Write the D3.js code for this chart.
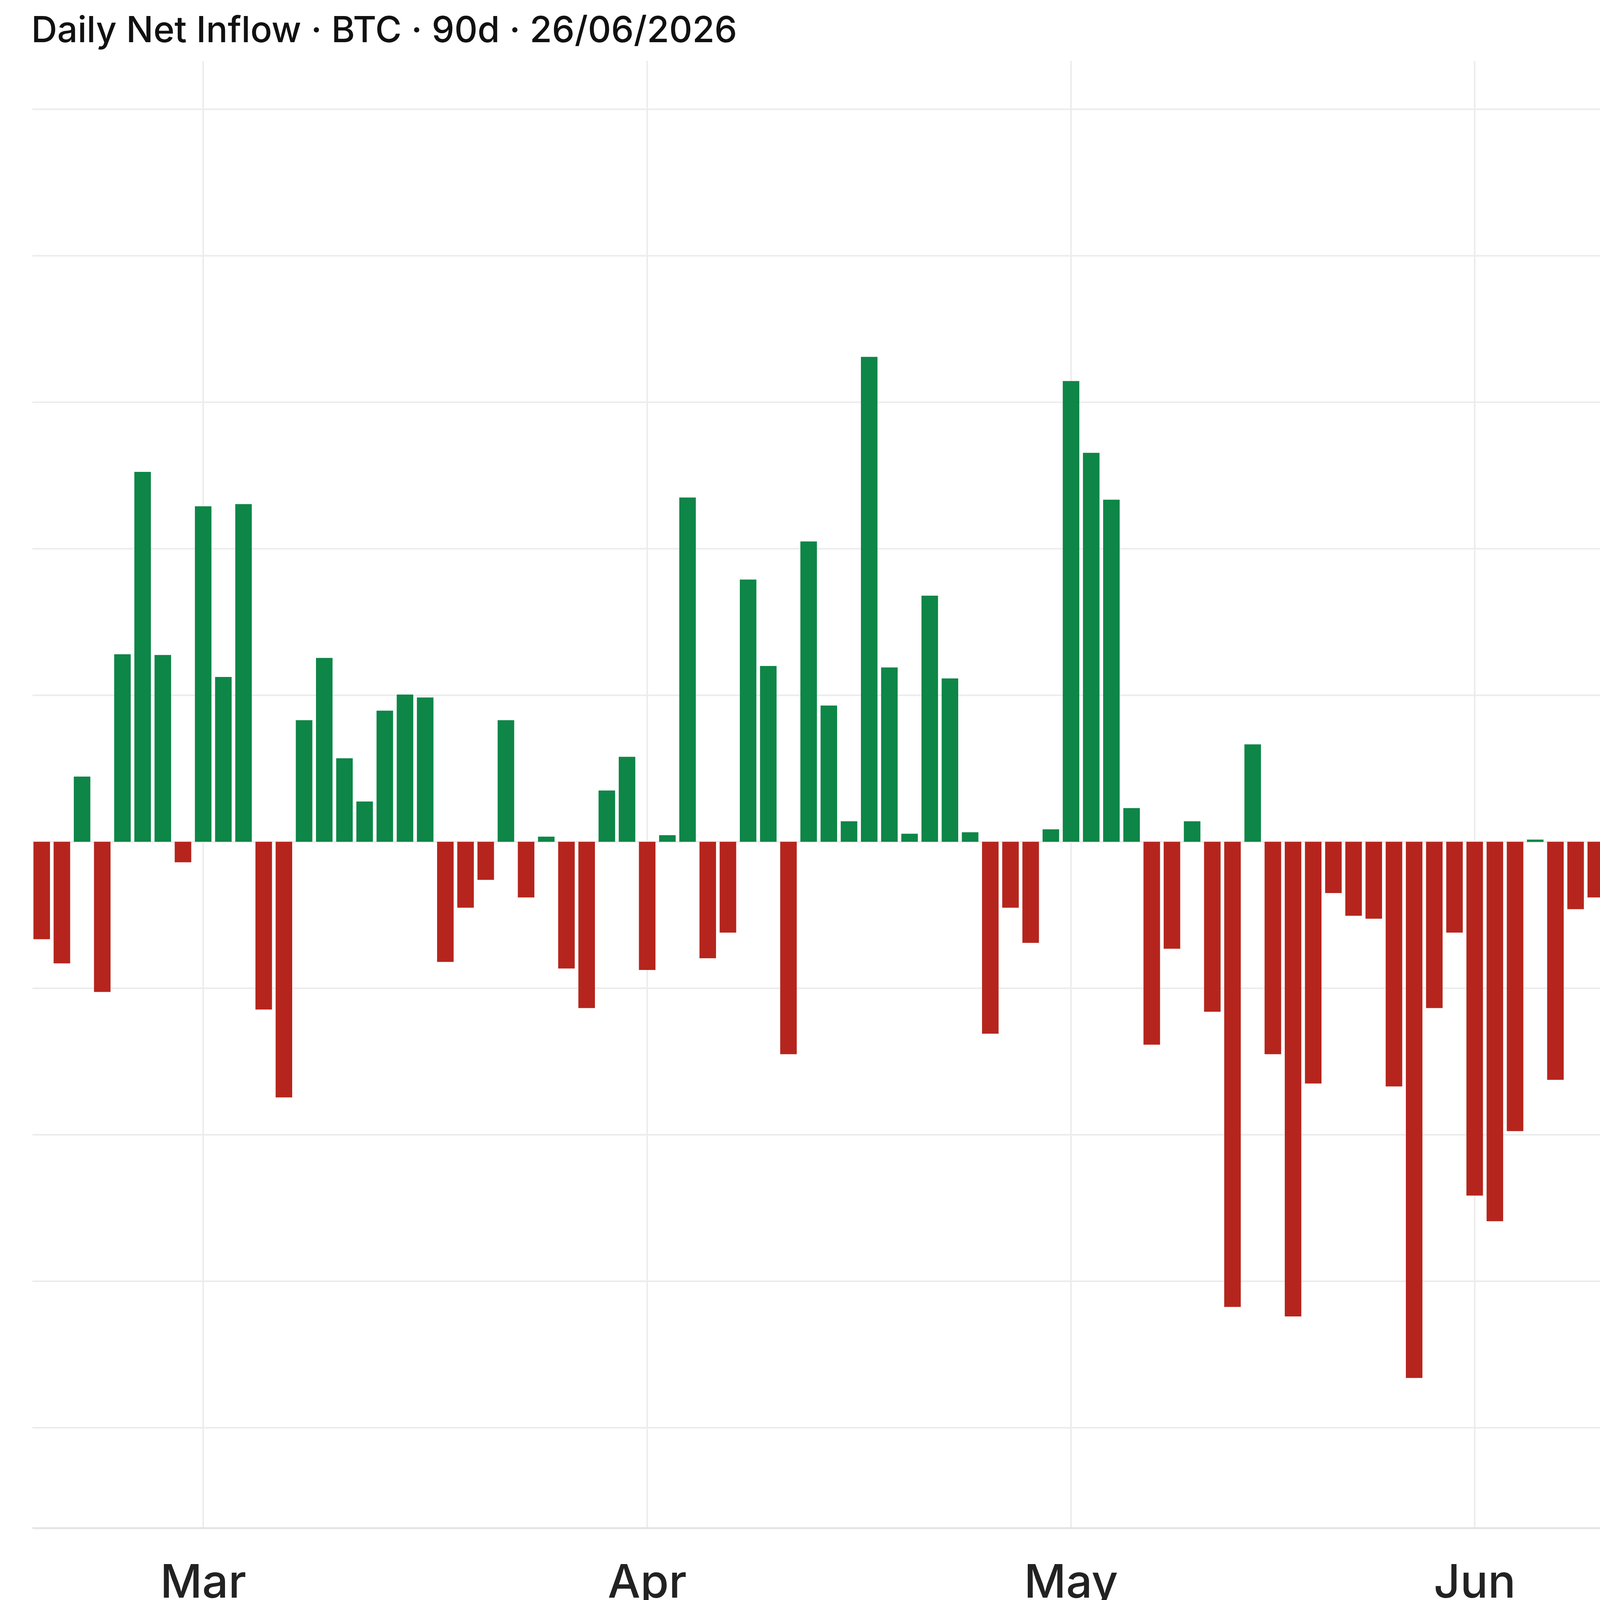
<!DOCTYPE html>
<html>
<head>
<meta charset="utf-8">
<script src="https://cdn.jsdelivr.net/npm/d3@7"></script>
<style>
  html, body { margin: 0; padding: 0; background: #ffffff; }
  svg { display: block; font-family: Inter, "Noto Sans", sans-serif; }
</style>
</head>
<body>
<svg id="chart" width="5368" height="4160"></svg>
<script>
// daily net inflow, $M, one per trading day (Feb 18 .. Jun 26 2026)
var flows = [
  -133, -166, 89, -205, 256, 505, 255, -28, 458, 225,
  461, -229, -349, 166, 251, 114, 55, 179, 201, 197,
  -164, -90, -52, 166, -76, 7, -173, -227, 70, 116,
  -175, 9, 470, -159, -124, 358, 240, -290, 410, 186,
  28, 662, 238, 11, 336, 223, 13, -262, -90, -138,
  17, 629, 531, 467, 46, -277, -146, 28, -232, -635,
  133, -290, -648, -330, -70, -101, -105, -334, -732, -227,
  -124, -483, -518, -395, 3, -325, -92, -76, -214, -18,
  85, -65, 9, -81, -90, -68, -113, -469, -696, -443
];
var holidays = ["2026-04-03", "2026-05-25", "2026-06-19"];
var yTicks = [1000, 800, 600, 400, 200, 0, -200, -400, -600, -800];
var xTickDates = ["2026-03-02", "2026-04-01", "2026-05-01", "2026-06-01", "2026-06-24"];
var xTickLabels = ["Mar", "Apr", "May", "Jun", "24"];

// build trading-day list
var fmt = d3.timeFormat("%Y-%m-%d");
var days = [];
var d = new Date(2026, 1, 18);
while (days.length < flows.length) {
  var k = fmt(d);
  if (d.getDay() != 0 && d.getDay() != 6 && holidays.indexOf(k) < 0) days.push(k);
  d = d3.timeDay.offset(d, 1);
}

var svg = d3.select("#chart");
var plotL = 83, plotR = 4739, plotT = 156, plotB = 3912;

var x = d3.scaleBand().domain(days).range([plotL, 4729]).paddingInner(0.18).paddingOuter(0.05);
var y = d3.scaleLinear().domain([-937, 1066]).range([plotB, plotT]);

// grid
svg.append("g").selectAll("line").data(yTicks).join("line")
  .attr("x1", plotL).attr("x2", plotR)
  .attr("y1", function(v) { return y(v); }).attr("y2", function(v) { return y(v); })
  .attr("stroke", "#ececec").attr("stroke-width", 4);
svg.append("g").selectAll("line").data(xTickDates).join("line")
  .attr("x1", function(k) { return x(k) + x.bandwidth() / 2; })
  .attr("x2", function(k) { return x(k) + x.bandwidth() / 2; })
  .attr("y1", plotT).attr("y2", plotB)
  .attr("stroke", "#ececec").attr("stroke-width", 4);
svg.append("line").attr("x1", plotR).attr("x2", plotR).attr("y1", plotT).attr("y2", plotB)
  .attr("stroke", "#e4e4e4").attr("stroke-width", 5);
svg.append("line").attr("x1", plotL).attr("x2", plotR).attr("y1", plotB).attr("y2", plotB)
  .attr("stroke", "#e4e4e4").attr("stroke-width", 5);

// bars
svg.append("g").selectAll("rect").data(flows).join("rect")
  .attr("x", function(v, i) { return x(days[i]); })
  .attr("width", x.bandwidth())
  .attr("y", function(v) { return y(Math.max(v, 0)); })
  .attr("height", function(v) { return Math.max(Math.abs(y(v) - y(0)), 6); })
  .attr("fill", function(v) { return v >= 0 ? "#0d8647" : "#b5251d"; });

// y labels
var yfmt = function(v) {
  if (v == 0) return "$0";
  var s = v < 0 ? "-" : "";
  var a = Math.abs(v);
  return s + "$" + (a >= 1000 ? (a / 1000) + "B" : a + "M");
};
svg.append("g").selectAll("text").data(yTicks).join("text")
  .attr("x", 4832).attr("y", function(v) { return y(v); })
  .attr("dy", "0.36em").attr("font-size", 118).attr("fill", "#222")
  .text(yfmt);

// x labels
svg.append("g").selectAll("text").data(xTickDates).join("text")
  .attr("x", function(k) { return x(k) + x.bandwidth() / 2; })
  .attr("y", 4090).attr("text-anchor", "middle")
  .attr("font-size", 118).attr("font-weight", 500).attr("fill", "#222")
  .text(function(k, i) { return xTickLabels[i]; });

// title
svg.append("text").attr("x", 80).attr("y", 108)
  .attr("font-size", 92).attr("font-weight", 500).attr("fill", "#111")
  .text("Daily Net Inflow · BTC · 90d · 26/06/2026");
</script>
</body>
</html>
